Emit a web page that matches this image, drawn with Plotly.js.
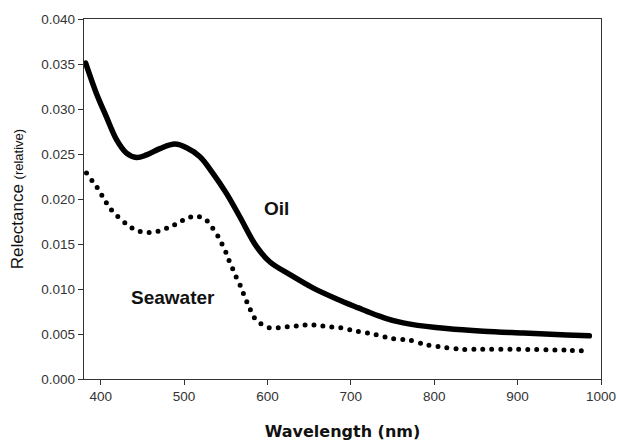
<!DOCTYPE html>
<html>
<head>
<meta charset="utf-8">
<script src="https://cdn.plot.ly/plotly-3.0.1.min.js"></script>
<style>
  html, body { margin: 0; padding: 0; background: #fff; }
  #chart { width: 617px; height: 443px; }
  .scatterlayer .js-line { stroke-linecap: round; stroke-linejoin: round; }
</style>
</head>
<body>
<div id="chart"></div>
<script>
// Oil reflectance curve
const oilWavelength = [382, 395, 407, 419, 431, 443, 455, 471, 489, 503, 519, 535, 551, 567, 587, 603, 627, 655, 683, 709, 725, 740, 755, 771, 815, 859, 907, 959, 986];
const oilReflectance = [0.0351, 0.0317, 0.0291, 0.0266, 0.0251, 0.0246, 0.0249, 0.0256, 0.0261, 0.0257, 0.0247, 0.0228, 0.0206, 0.0180, 0.0147, 0.0130, 0.0116, 0.0101, 0.0089, 0.0079, 0.0073, 0.0068, 0.0064, 0.0061, 0.0056, 0.0053, 0.0051, 0.0049, 0.0048];

// Seawater reflectance curve
const seaWavelength = [383, 390, 397, 404, 411, 420, 431, 441, 451, 461, 472, 483, 494, 504, 515, 526, 534, 541, 546, 551, 555, 560, 564, 569, 573, 578, 582, 591, 602, 613, 624, 635, 645, 655, 665, 675, 687, 707, 727, 749, 771, 791, 813, 833, 855, 899, 959, 985];
const seaReflectance = [0.0229, 0.0220, 0.0211, 0.0200, 0.0190, 0.0181, 0.0172, 0.0166, 0.0163, 0.0163, 0.0165, 0.0169, 0.0174, 0.0179, 0.0181, 0.0177, 0.0168, 0.0158, 0.0149, 0.0139, 0.0129, 0.0119, 0.0110, 0.0101, 0.0090, 0.0081, 0.0071, 0.0062, 0.0057, 0.0057, 0.0058, 0.0059, 0.0060, 0.0060, 0.0059, 0.0058, 0.0057, 0.0053, 0.0050, 0.0045, 0.0043, 0.0038, 0.0035, 0.0033, 0.0033, 0.0033, 0.0032, 0.0031];

// Tick labels
const xTicks = [400, 500, 600, 700, 800, 900, 1000];
const yTicks = [0.000, 0.005, 0.010, 0.015, 0.020, 0.025, 0.030, 0.035, 0.040];

const labelFont = 'Liberation Sans, Arial, sans-serif';

const traces = [
  {
    x: oilWavelength, y: oilReflectance, name: 'Oil',
    type: 'scatter', mode: 'lines',
    line: { color: '#000', width: 5.5, shape: 'spline', smoothing: 1 },
    hoverinfo: 'skip'
  },
  {
    x: seaWavelength, y: seaReflectance, name: 'Seawater',
    type: 'scatter', mode: 'lines',
    line: { color: '#000', width: 5, dash: '0px,9px', shape: 'spline', smoothing: 0.8 },
    hoverinfo: 'skip'
  }
];

const layout = {
  width: 617, height: 443,
  margin: { l: 84, r: 16, t: 19, b: 64 },
  paper_bgcolor: '#fff', plot_bgcolor: '#fff',
  showlegend: false,
  xaxis: {
    range: [380, 1000],
    tickvals: xTicks,
    ticktext: xTicks.map(String),
    ticks: 'outside', ticklen: 5, tickwidth: 1, tickcolor: '#333',
    showline: true, linecolor: '#333', linewidth: 1.2, mirror: true,
    showgrid: false, zeroline: false,
    tickfont: { family: labelFont, size: 13.5, color: '#333' },
    title: {
      text: 'Wavelength (nm)',
      font: { family: 'DejaVu Sans, Verdana, sans-serif', size: 16, color: '#111', weight: 'bold' },
      standoff: 22
    }
  },
  yaxis: {
    range: [0, 0.040],
    tickvals: yTicks,
    ticktext: yTicks.map(v => v.toFixed(3)),
    ticks: 'outside', ticklen: 5, tickwidth: 1, tickcolor: '#333',
    showline: true, linecolor: '#333', linewidth: 1.2, mirror: true,
    showgrid: false, zeroline: false,
    tickfont: { family: labelFont, size: 13.5, color: '#333' },
    title: {
      text: 'Relectance <span style="font-size:13px">(relative)</span>',
      font: { family: labelFont, size: 17, color: '#111' },
      standoff: 13
    }
  },
  annotations: [
    {
      x: 611, y: 0.0189, xref: 'x', yref: 'y', text: 'Oil', showarrow: false,
      font: { family: labelFont, size: 19, color: '#111', weight: 'bold' }
    },
    {
      x: 487, y: 0.0091, xref: 'x', yref: 'y', text: 'Seawater', showarrow: false,
      font: { family: labelFont, size: 19, color: '#111', weight: 'bold' }
    }
  ]
};

Plotly.newPlot('chart', traces, layout, { staticPlot: true, displayModeBar: false });
</script>
</body>
</html>
